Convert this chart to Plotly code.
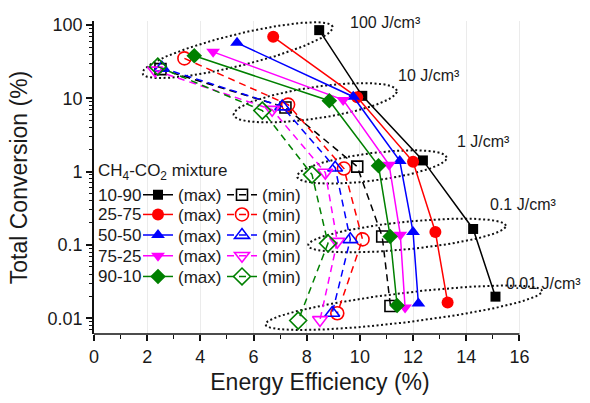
import numpy as np
import plotly.graph_objects as go

# ---------------- data ----------------
energy_density_labels = ["100 J/cm³", "10 J/cm³", "1 J/cm³", "0.1 J/cm³", "0.01 J/cm³"]
mixtures = ["10-90", "25-75", "50-50", "75-25", "90-10"]

# energy efficiency (%) / total conversion (%) at max, per energy density (100,10,1,0.1,0.01 J/cm3)
eff_max_10_90 = [8.47, 10.09, 12.37, 14.26, 15.10]
conv_max_10_90 = [85, 10.8, 1.42, 0.165, 0.0197]
eff_min_10_90 = [2.50, 7.20, 9.90, 10.84, 11.15]
conv_min_10_90 = [25, 7.5, 1.17, 0.13, 0.0147]

eff_max_25_75 = [6.74, 9.90, 12.00, 12.84, 13.30]
conv_max_25_75 = [69, 10.3, 1.36, 0.15, 0.0164]
eff_min_25_75 = [3.40, 7.30, 9.40, 10.10, 9.15]
conv_min_25_75 = [35, 8.2, 1.10, 0.119, 0.0117]

eff_max_50_50 = [5.38, 9.75, 11.50, 12.00, 12.20]
conv_max_50_50 = [57, 10.5, 1.40, 0.15, 0.0159]
eff_min_50_50 = [2.55, 7.08, 9.07, 9.64, 8.96]
conv_min_50_50 = [26, 7.7, 1.13, 0.119, 0.0118]

eff_max_75_25 = [4.48, 9.37, 11.10, 11.52, 11.70]
conv_max_75_25 = [43, 9.5, 1.24, 0.138, 0.0140]
eff_min_75_25 = [2.30, 6.70, 8.70, 9.15, 8.50]
conv_min_75_25 = [24, 7.0, 0.97, 0.111, 0.0095]

eff_max_90_10 = [3.77, 8.85, 10.70, 11.14, 11.40]
conv_max_90_10 = [38, 9.25, 1.20, 0.13, 0.0149]
eff_min_90_10 = [2.40, 6.33, 8.20, 8.80, 7.68]
conv_min_90_10 = [27, 6.8, 0.91, 0.105, 0.0093]

x_tick_vals = [0, 2, 4, 6, 8, 10, 12, 14, 16]
y_tick_vals = [0.01, 0.1, 1, 10, 100]
y_tick_text = ["0.01", "0.1", "1", "10", "100"]

series_max_x = [eff_max_10_90, eff_max_25_75, eff_max_50_50, eff_max_75_25, eff_max_90_10]
series_max_y = [conv_max_10_90, conv_max_25_75, conv_max_50_50, conv_max_75_25, conv_max_90_10]
series_min_x = [eff_min_10_90, eff_min_25_75, eff_min_50_50, eff_min_75_25, eff_min_90_10]
series_min_y = [conv_min_10_90, conv_min_25_75, conv_min_50_50, conv_min_75_25, conv_min_90_10]

# ---------------- styles ----------------
colors = ["#000000", "#ff0000", "#0000ff", "#ff00ff", "#008000"]
symbols = ["square", "circle", "triangle-up", "triangle-down", "diamond"]
msizes = [10, 12, 12, 12, 12]
FONT = "Liberation Sans, Arial, sans-serif"
TXT = "#1a1a1a"

W_FIG, H_FIG = 590, 403
M_L, M_R, M_T, M_B = 94, 44, 21, 64
PW = W_FIG - M_L - M_R
PH = H_FIG - M_T - M_B
X_RANGE = [0, 17]
Y_RANGE = [-2.215, 2.054]
SX = PW / (X_RANGE[1] - X_RANGE[0])          # px per x unit
SY = PH / (Y_RANGE[1] - Y_RANGE[0])          # px per decade

# ellipse padding (left px, right px, semi-minor px) per energy-density group
ell_style = [(13, 14, 16), (29, 35, 16), (15, 24, 14), (20, 33, 14), (33, 47, 15)]


def px_to_paper(px, py):
    return (px - M_L) / PW, 1 - (py - M_T) / PH


fig = go.Figure()

# ellipses around each energy-density group (built from the group's points)
for g in range(5):
    xs = [s[g] for s in series_max_x] + [s[g] for s in series_min_x]
    ys = [s[g] for s in series_max_y] + [s[g] for s in series_min_y]
    P = np.column_stack([np.array(xs) * SX, np.log10(ys) * SY])
    p1, p2 = P[np.argmin(P[:, 0])], P[np.argmax(P[:, 0])]
    d = p2 - p1
    L = np.hypot(*d)
    u = d / L
    v = np.array([-u[1], u[0]])
    pl, pr, b = ell_style[g]
    a = L / 2 + (pl + pr) / 2
    c = p1 + u * (L / 2 + (pr - pl) / 2)
    t = np.linspace(0, 2 * np.pi, 240)
    pts = c[None, :] + np.outer(a * np.cos(t), u) + np.outer(b * np.sin(t), v)
    fig.add_trace(go.Scatter(
        x=pts[:, 0] / SX, y=10 ** (pts[:, 1] / SY), mode="lines",
        line=dict(color="#111111", width=2, dash="2px,2.5px"),
        hoverinfo="skip", showlegend=False))

for i in range(5):
    lg_max = "legend" if i == 0 else f"legend{2 * i + 1}"
    lg_min = f"legend{2 * i + 2}"
    fig.add_trace(go.Scatter(
        x=series_min_x[i], y=series_min_y[i], mode="lines+markers", name="(min)",
        line=dict(color=colors[i], width=1.5, dash="7px,5px"),
        marker=dict(symbol=symbols[i] + "-open", size=msizes[i] + 1, color=colors[i],
                    line=dict(width=1.6, color=colors[i])),
        legend=lg_min))
    fig.add_trace(go.Scatter(
        x=series_max_x[i], y=series_max_y[i], mode="lines+markers", name="(max)",
        line=dict(color=colors[i], width=1.5),
        marker=dict(symbol=symbols[i], size=msizes[i], color=colors[i]),
        legend=lg_max))

# legend rows
row_y = [198, 218, 239, 260, 281]
legends = {}
annotations = []
for i in range(5):
    k_max = "legend" if i == 0 else f"legend{2 * i + 1}"
    k_min = f"legend{2 * i + 2}"
    for k, xpx in ((k_max, 138), (k_min, 222)):
        xp, yp = px_to_paper(xpx, row_y[i])
        legends[k] = dict(x=xp, y=yp, xanchor="left", yanchor="middle",
                          bgcolor="rgba(0,0,0,0)", borderwidth=0,
                          font=dict(family=FONT, size=17, color=TXT),
                          tracegroupgap=0)
    xp, yp = px_to_paper(96, row_y[i])
    annotations.append(dict(x=xp, y=yp, xref="paper", yref="paper", text=mixtures[i],
                            showarrow=False, xanchor="left", yanchor="middle",
                            font=dict(family=FONT, size=17, color=TXT)))
xp, yp = px_to_paper(96, 174)
annotations.append(dict(x=xp, y=yp, xref="paper", yref="paper",
                        text="CH<sub>4</sub>-CO<sub>2</sub> mixture",
                        showarrow=False, xanchor="left", yanchor="middle",
                        font=dict(family=FONT, size=17, color=TXT)))

# energy density labels
label_px = [(348, 23), (396, 76), (455, 143), (488, 207), (504, 288)]
for lab, (lx, ly) in zip(energy_density_labels, label_px):
    annotations.append(dict(x=(lx - M_L) / SX, y=2 - (ly - 25) / SY, xref="x", yref="y",
                            text=lab, showarrow=False, xanchor="left", yanchor="middle",
                            font=dict(family=FONT, size=16, color=TXT)))

minor_y = [m * 10.0 ** e for e in range(-3, 3) for m in range(2, 10)]

fig.update_layout(
    width=W_FIG, height=H_FIG,
    margin=dict(l=M_L, r=M_R, t=M_T, b=M_B),
    paper_bgcolor="white", plot_bgcolor="white",
    font=dict(family=FONT, color=TXT),
    annotations=annotations,
    shapes=[dict(type="line", xref="x", yref="paper", x0=0, x1=16, y0=0, y1=0,
                 line=dict(color="#111111", width=1.6))],
    xaxis=dict(range=X_RANGE, tickmode="array", tickvals=x_tick_vals,
               showline=False, zeroline=False, showgrid=True, gridcolor="#ebebeb", gridwidth=1,
               ticks="outside", ticklen=6, tickwidth=1.5, tickcolor="#111111",
               tickfont=dict(family=FONT, size=18, color=TXT),
               minor=dict(tickmode="array", tickvals=[1, 3, 5, 7, 9, 11, 13, 15],
                          ticks="outside", ticklen=3.5, tickwidth=1.3, tickcolor="#111111",
                          showgrid=False),
               title=dict(text="Energy Efficiency (%)", standoff=8,
                          font=dict(family=FONT, size=23, color=TXT))),
    yaxis=dict(type="log", range=Y_RANGE, tickmode="array", tickvals=y_tick_vals,
               ticktext=y_tick_text, showline=True, linecolor="#111111", linewidth=1.6,
               showgrid=False, zeroline=False,
               ticks="outside", ticklen=6, tickwidth=1.5, tickcolor="#111111",
               tickfont=dict(family=FONT, size=18, color=TXT),
               minor=dict(tickmode="array", tickvals=minor_y, ticks="outside", ticklen=3.5,
                          tickwidth=1.1, tickcolor="#111111", showgrid=False),
               title=dict(text="Total Conversion (%)", standoff=14,
                          font=dict(family=FONT, size=23, color=TXT))),
    **legends,
)

fig.write_html("out.html")
